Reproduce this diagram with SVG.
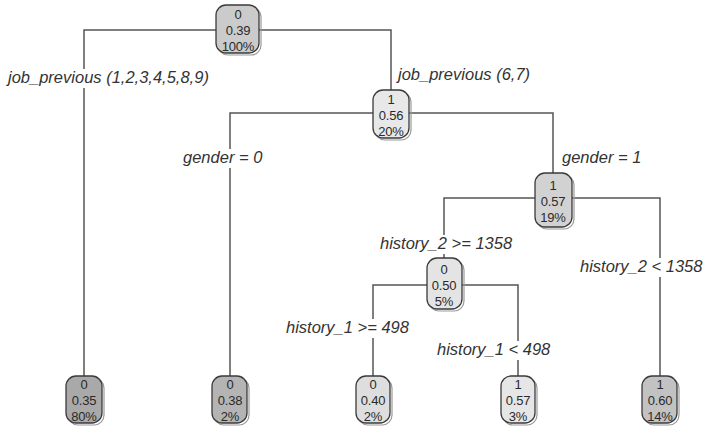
<svg xmlns="http://www.w3.org/2000/svg" width="703" height="427" viewBox="0 0 703 427">
<style>
.box{stroke:#3a3a3a;stroke-width:1.3}
.sh{fill:none;stroke:#9a9a9a;stroke-width:1.2}
.nt{font-family:"Liberation Sans",Arial,sans-serif;font-size:13px;fill:#2a2a2a;text-anchor:middle;letter-spacing:-0.2px}
.lb{font-family:"Liberation Sans",Arial,sans-serif;font-size:16.5px;font-style:italic;fill:#333}
.bg{fill:#fff}
.cn{fill:none;stroke:#555;stroke-width:1.5}
</style>
<rect width="703" height="427" fill="#fff"/>
<g id="connectors">
<polyline class="cn" points="216,30 84,30 84,376"/>
<polyline class="cn" points="259,30 391,30 391,90"/>
<polyline class="cn" points="373,113 230,113 230,376"/>
<polyline class="cn" points="409,113 553,113 553,173"/>
<polyline class="cn" points="535,198 444,198 444,258"/>
<polyline class="cn" points="572,198 660,198 660,376"/>
<polyline class="cn" points="427,285 373,285 373,376"/>
<polyline class="cn" points="462,285 518,285 518,376"/>
</g>
<g id="labels">
<rect class="bg" x="6" y="69" width="208" height="19"/>
<text class="lb" x="8" y="83">job_previous (1,2,3,4,5,8,9)</text>
<text class="lb" x="398" y="80">job_previous (6,7)</text>
<rect class="bg" x="181" y="149" width="86" height="19"/>
<text class="lb" x="183" y="163">gender = 0</text>
<text class="lb" x="562" y="163">gender = 1</text>
<rect class="bg" x="378" y="235" width="131" height="19"/>
<text class="lb" x="380" y="249">history_2 &gt;= 1358</text>
<rect class="bg" x="578" y="258" width="125" height="19"/>
<text class="lb" x="580" y="272">history_2 &lt; 1358</text>
<rect class="bg" x="284" y="319" width="128" height="19"/>
<text class="lb" x="286" y="333">history_1 &gt;= 498</text>
<rect class="bg" x="435" y="341" width="118" height="19"/>
<text class="lb" x="437" y="355">history_1 &lt; 498</text>
</g>
<g id="n1">
<rect class="sh" x="218" y="7" width="43" height="48" rx="10"/>
<rect class="box" x="216" y="5" width="43" height="48" rx="10" fill="#cbcbcb"/>
<text class="nt" x="238" y="19">0</text><text class="nt" x="238" y="35">0.39</text><text class="nt" x="238" y="51">100%</text>
</g>
<g id="n2">
<rect class="sh" x="375" y="92" width="36" height="48" rx="10"/>
<rect class="box" x="373" y="90" width="36" height="48" rx="10" fill="#e8e8e8"/>
<text class="nt" x="391" y="104">1</text><text class="nt" x="391" y="120">0.56</text><text class="nt" x="391" y="136">20%</text>
</g>
<g id="n3">
<rect class="sh" x="537" y="175" width="37" height="54" rx="10"/>
<rect class="box" x="535" y="173" width="37" height="54" rx="10" fill="#d2d2d2"/>
<text class="nt" x="553" y="190">1</text><text class="nt" x="553" y="206">0.57</text><text class="nt" x="553" y="222">19%</text>
</g>
<g id="n4">
<rect class="sh" x="429" y="260" width="35" height="51" rx="10"/>
<rect class="box" x="427" y="258" width="35" height="51" rx="10" fill="#e4e4e4"/>
<text class="nt" x="444" y="274">0</text><text class="nt" x="444" y="290">0.50</text><text class="nt" x="444" y="306">5%</text>
</g>
<g id="leaf1">
<rect class="sh" x="68" y="378" width="36" height="47" rx="10"/>
<rect class="box" x="66" y="376" width="36" height="47" rx="10" fill="#a9a9a9"/>
<text class="nt" x="84" y="389">0</text><text class="nt" x="84" y="405">0.35</text><text class="nt" x="84" y="421">80%</text>
</g>
<g id="leaf2">
<rect class="sh" x="214" y="378" width="35" height="47" rx="10"/>
<rect class="box" x="212" y="376" width="35" height="47" rx="10" fill="#b4b4b4"/>
<text class="nt" x="230" y="389">0</text><text class="nt" x="230" y="405">0.38</text><text class="nt" x="230" y="421">2%</text>
</g>
<g id="leaf3">
<rect class="sh" x="358" y="378" width="34" height="47" rx="10"/>
<rect class="box" x="356" y="376" width="34" height="47" rx="10" fill="#dedede"/>
<text class="nt" x="373" y="389">0</text><text class="nt" x="373" y="405">0.40</text><text class="nt" x="373" y="421">2%</text>
</g>
<g id="leaf4">
<rect class="sh" x="503" y="378" width="34" height="47" rx="10"/>
<rect class="box" x="501" y="376" width="34" height="47" rx="10" fill="#e6e6e6"/>
<text class="nt" x="518" y="389">1</text><text class="nt" x="518" y="405">0.57</text><text class="nt" x="518" y="421">3%</text>
</g>
<g id="leaf5">
<rect class="sh" x="644" y="378" width="35" height="47" rx="10"/>
<rect class="box" x="642" y="376" width="35" height="47" rx="10" fill="#c2c2c2"/>
<text class="nt" x="660" y="389">1</text><text class="nt" x="660" y="405">0.60</text><text class="nt" x="660" y="421">14%</text>
</g>
</svg>
